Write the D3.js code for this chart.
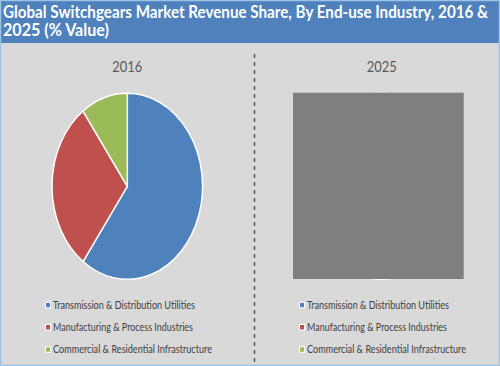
<!DOCTYPE html>
<html><head><meta charset="utf-8">
<script src="https://cdn.jsdelivr.net/npm/d3@7"></script>
<style>html,body{margin:0;padding:0;background:#fff;}svg{display:block;}</style>
</head><body>
<script>
const titleLines = ["Global Switchgears Market Revenue Share, By End-use Industry, 2016 &", "2025 (% Value)"];
const categories = ["Transmission & Distribution Utilities", "Manufacturing & Process Industries", "Commercial & Residential Infrastructure"];
const colors = ["#4f81bd", "#c0504d", "#9bbb59"];
const years = ["2016", "2025"];
const values2016 = [60, 30, 10];
const values2025 = [58, 31, 11]; // hidden under grey box in the reference

const W = 500, H = 366;
const svg = d3.select("body").append("svg").attr("width", W).attr("height", H);
svg.append("rect").attr("x",0).attr("y",0).attr("width",W).attr("height",H).attr("fill","#d9d9d9");
svg.append("rect").attr("x",0).attr("y",0).attr("width",W).attr("height",43).attr("fill","#4f81bd");
svg.append("rect").attr("x",0.5).attr("y",0.5).attr("width",W-1).attr("height",H-1).attr("fill","none").attr("stroke","#9dc3e6").attr("stroke-width",1.5);

const titleFont = "Lato, 'Open Sans', sans-serif";
svg.append("text").attr("x",3).attr("y",17.5).attr("fill","#fff").attr("font-family",titleFont).attr("font-weight","bold").attr("font-size",16.5)
  .attr("textLength",485).attr("lengthAdjust","spacingAndGlyphs").text(titleLines[0]);
svg.append("text").attr("x",3).attr("y",36).attr("fill","#fff").attr("font-family",titleFont).attr("font-weight","bold").attr("font-size",16.5)
  .attr("textLength",106).attr("lengthAdjust","spacingAndGlyphs").text(titleLines[1]);

// separator
svg.append("line").attr("x1",254.5).attr("x2",254.5).attr("y1",54).attr("y2",362).attr("stroke","#595959").attr("stroke-width",1.5).attr("stroke-dasharray","4,4");

const pie = d3.pie().sort(null).value(d => d);
const arc = d3.arc().innerRadius(0).outerRadius(1);
const centers = [127.3, 381.7];
const cy = 186.3, rx = 75.3, ry = 93;
const allValues = [values2016, values2025];

centers.forEach((cx, i) => {
  svg.append("text").attr("x", cx).attr("y", 72).attr("text-anchor","middle").attr("fill","#595959")
    .attr("font-family",titleFont).attr("font-size",16).attr("textLength",30).attr("lengthAdjust","spacingAndGlyphs").text(years[i]);
  const g = svg.append("g").attr("transform", `translate(${cx},${cy}) scale(${rx},${ry})`);
  g.selectAll("path").data(pie(allValues[i])).join("path")
    .attr("d", arc).attr("fill", (d, j) => colors[j])
    .attr("stroke","#fff").attr("stroke-width",1.5).attr("vector-effect","non-scaling-stroke");
});

// grey box covering the 2025 pie
svg.append("rect").attr("x",293).attr("y",92.7).attr("width",170.7).attr("height",186.3).attr("fill","#7f7f7f");

// legends
const legendX = [45.5, 299.5];
const rowY = [305.3, 327.5, 349.8];
legendX.forEach(lx => {
  categories.forEach((c, j) => {
    svg.append("rect").attr("x", lx).attr("y", rowY[j]-3).attr("width",5).attr("height",5.5)
      .attr("fill", colors[j]).attr("stroke","#fff").attr("stroke-width",1);
    svg.append("text").attr("x", lx+7.5).attr("y", rowY[j]+3.5).attr("fill","#404040")
      .attr("font-family",titleFont).attr("font-size",10.5)
      .attr("textLength", [142, 140, 159][j]).attr("lengthAdjust","spacingAndGlyphs").text(c);
  });
});
</script>
</body></html>
